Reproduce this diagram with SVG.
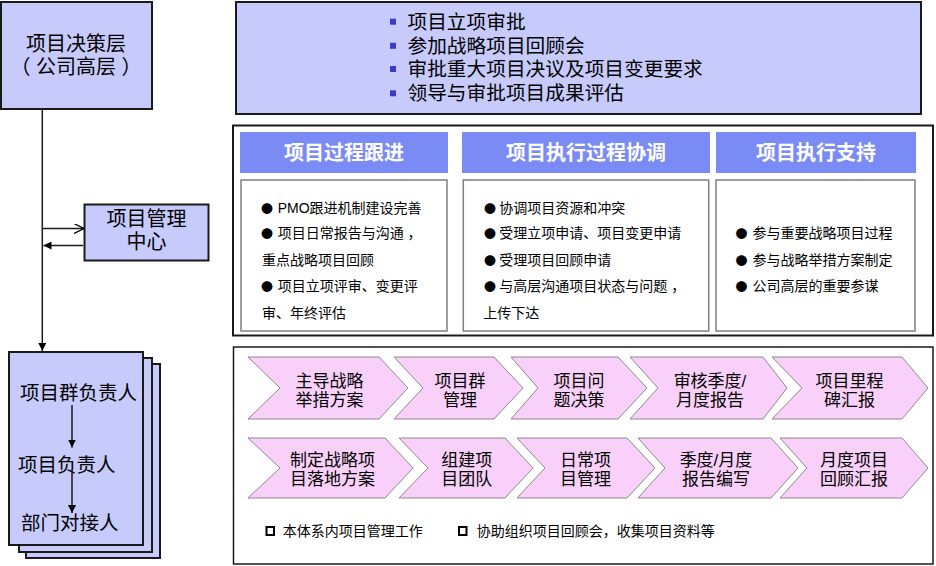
<svg xmlns="http://www.w3.org/2000/svg" width="936" height="566" viewBox="0 0 936 566">
<defs>
<style>
text{font-family:"Liberation Sans","Noto Sans CJK SC",sans-serif;fill:#000;dominant-baseline:central}
.lav{fill:#c6cbfb;stroke:#1a1a1a;stroke-width:2}
.hdr{fill:#7b8bf5;stroke:none}
.hdrt{fill:#fff;font-size:20px;font-weight:bold;text-anchor:middle}
.cbox{fill:#fff;stroke:#7f7f7f;stroke-width:1.5}
.ct{font-size:14px}
.bul{font-family:"Noto Sans CJK SC",sans-serif;font-size:12px}
.chev{fill:#f9d0f9;stroke:#8a8a8a;stroke-width:1}
.chevt{font-size:17px;text-anchor:middle}
.tb{font-size:19.7px}
.sq{fill:#3a3ad0}
.line{stroke:#1a1a1a;stroke-width:1.5;fill:none}
.lg{fill:#fff;stroke:#000;stroke-width:2}
</style>
<marker id="fa" viewBox="0 0 10 10" refX="10" refY="5" markerWidth="8" markerHeight="8" markerUnits="userSpaceOnUse" orient="auto">
<path d="M0,0 L10,5 L0,10 Z" fill="#000"/>
</marker>
<marker id="oa" viewBox="0 0 10 10" refX="10" refY="5" markerWidth="10" markerHeight="10" markerUnits="userSpaceOnUse" orient="auto">
<path d="M0,0 L10,5 L0,10" fill="none" stroke="#000" stroke-width="1.3"/>
</marker>
</defs>
<rect width="936" height="566" fill="#fff"/>

<g id="decision">
<rect class="lav" x="1" y="2" width="151" height="107"/>
<text x="76" y="43.5" font-size="20" text-anchor="middle">项目决策层</text>
<text x="76" y="67" font-size="20" text-anchor="middle">（ 公司高层 ）</text>
</g>

<g id="pmo">
<rect class="lav" x="84.5" y="204.5" width="124" height="56"/>
<text x="146.5" y="218.5" font-size="20" text-anchor="middle">项目管理</text>
<text x="146.5" y="242" font-size="20" text-anchor="middle">中心</text>
</g>

<g id="stack">
<rect class="lav" x="26" y="364" width="134" height="194" stroke-width="1.5"/>
<rect class="lav" x="19" y="358" width="133" height="194" stroke-width="1.5"/>
<rect class="lav" x="9" y="352" width="134" height="193" stroke-width="1.5"/>
<text x="20" y="393" font-size="19.5">项目群负责人</text>
<text x="18" y="465" font-size="19.5">项目负责人</text>
<text x="21" y="523" font-size="19.5">部门对接人</text>
</g>

<g id="connectors">
<line class="line" x1="42.3" y1="109" x2="42.3" y2="351" marker-end="url(#fa)"/>
<line class="line" x1="42.3" y1="228.5" x2="84" y2="228.5" marker-end="url(#oa)"/>
<line class="line" x1="83" y1="245.5" x2="43.5" y2="245.5" marker-end="url(#fa)"/>
<line class="line" x1="72" y1="405" x2="72" y2="447.5" marker-end="url(#fa)"/>
<line class="line" x1="72" y1="469" x2="72" y2="513" marker-end="url(#fa)"/>
</g>

<g id="decision-duties">
<rect class="lav" x="236" y="2" width="685" height="112"/>
<rect class="sq" x="390" y="18.7" width="6" height="6"/>
<rect class="sq" x="390" y="42.8" width="6" height="6"/>
<rect class="sq" x="390" y="66" width="6" height="6"/>
<rect class="sq" x="390" y="90.3" width="6" height="6"/>
<text class="tb" x="407.5" y="21.7">项目立项审批</text>
<text class="tb" x="407.5" y="45.8">参加战略项目回顾会</text>
<text class="tb" x="407.5" y="69">审批重大项目决议及项目变更要求</text>
<text class="tb" x="407.5" y="93.3">领导与审批项目成果评估</text>
</g>

<g id="pmo-functions">
<rect x="233" y="125.5" width="700" height="210" fill="#fff" stroke="#1a1a1a" stroke-width="2"/>
</g>

<g id="col-tracking">
<rect class="hdr" x="240" y="132" width="208" height="41"/>
<text class="hdrt" x="344" y="153">项目过程跟进</text>
<rect class="cbox" x="241" y="180" width="206" height="151"/>
<text class="ct"><tspan class="bul" x="261" y="207.7">●</tspan><tspan x="277.7" y="207.7">PMO跟进机制建设完善</tspan></text>
<text class="ct"><tspan class="bul" x="261" y="233.3">●</tspan><tspan x="277.7" y="233.3">项目日常报告与沟通 ，</tspan></text>
<text class="ct" x="262" y="260">重点战略项目回顾</text>
<text class="ct"><tspan class="bul" x="261" y="286.3">●</tspan><tspan x="277.7" y="286.3">项目立项评审、变更评</tspan></text>
<text class="ct" x="262" y="312.7">审、年终评估</text>
</g>

<g id="col-coordination">
<rect class="hdr" x="462" y="132" width="248" height="41"/>
<text class="hdrt" x="586" y="153">项目执行过程协调</text>
<rect class="cbox" x="463.3" y="180" width="245.4" height="151"/>
<text class="ct"><tspan class="bul" x="484" y="207.7">●</tspan><tspan x="499.3" y="207.7">协调项目资源和冲突</tspan></text>
<text class="ct"><tspan class="bul" x="484" y="233.3">●</tspan><tspan x="499.3" y="233.3">受理立项申请、项目变更申请</tspan></text>
<text class="ct"><tspan class="bul" x="484" y="260">●</tspan><tspan x="499.3" y="260">受理项目回顾申请</tspan></text>
<text class="ct"><tspan class="bul" x="484" y="286.3">●</tspan><tspan x="499.3" y="286.3">与高层沟通项目状态与问题 ，</tspan></text>
<text class="ct" x="483.3" y="312.7">上传下达</text>
</g>

<g id="col-support">
<rect class="hdr" x="716" y="132" width="200" height="41"/>
<text class="hdrt" x="816" y="153">项目执行支持</text>
<rect class="cbox" x="716" y="180" width="199" height="151"/>
<text class="ct"><tspan class="bul" x="735.5" y="233.3">●</tspan><tspan x="752.5" y="233.3">参与重要战略项目过程</tspan></text>
<text class="ct"><tspan class="bul" x="735.5" y="260">●</tspan><tspan x="752.5" y="260">参与战略举措方案制定</tspan></text>
<text class="ct"><tspan class="bul" x="735.5" y="286.3">●</tspan><tspan x="752.5" y="286.3">公司高层的重要参谋</tspan></text>
</g>

<g id="work-panel">
<rect x="233.5" y="347" width="699.5" height="217" fill="#fff" stroke="#1a1a1a" stroke-width="1.5"/>
</g>

<g id="row1">
<g id="c1-1"><path class="chev" d="M248,357 L379,357 L408,388 L379,419 L248,419 L280,388 Z"/>
<text class="chevt" x="329.5" y="381">主导战略</text><text class="chevt" x="329.5" y="400">举措方案</text></g>
<g id="c1-2"><path class="chev" d="M394,357 L494,357 L523,388 L494,419 L394,419 L423,388 Z"/>
<text class="chevt" x="460" y="381">项目群</text><text class="chevt" x="460" y="400">管理</text></g>
<g id="c1-3"><path class="chev" d="M511,357 L618,357 L647,388 L618,419 L511,419 L538,388 Z"/>
<text class="chevt" x="579" y="381">项目问</text><text class="chevt" x="579" y="400">题决策</text></g>
<g id="c1-4"><path class="chev" d="M630,357 L763,357 L787,388 L763,419 L630,419 L658,388 Z"/>
<text class="chevt" x="710" y="381">审核季度/</text><text class="chevt" x="710" y="400">月度报告</text></g>
<g id="c1-5"><path class="chev" d="M772,357 L902,357 L928,388 L902,419 L772,419 L802,388 Z"/>
<text class="chevt" x="849.5" y="381">项目里程</text><text class="chevt" x="849.5" y="400">碑汇报</text></g>
</g>

<g id="row2">
<g id="c2-1"><path class="chev" d="M248,438 L385,438 L413,468 L385,498 L248,498 L280,468 Z"/>
<text class="chevt" x="332.5" y="460">制定战略项</text><text class="chevt" x="332.5" y="479">目落地方案</text></g>
<g id="c2-2"><path class="chev" d="M399,438 L505,438 L533,468 L505,498 L399,498 L428,468 Z"/>
<text class="chevt" x="466.7" y="460">组建项</text><text class="chevt" x="466.7" y="479">目团队</text></g>
<g id="c2-3"><path class="chev" d="M517,438 L627,438 L655,468 L627,498 L517,498 L545,468 Z"/>
<text class="chevt" x="585.5" y="460">日常项</text><text class="chevt" x="585.5" y="479">目管理</text></g>
<g id="c2-4"><path class="chev" d="M638,438 L771,438 L798,468 L771,498 L638,498 L665,468 Z"/>
<text class="chevt" x="716" y="460">季度/月度</text><text class="chevt" x="716" y="479">报告编写</text></g>
<g id="c2-5"><path class="chev" d="M780,438 L902,438 L928,468 L902,498 L780,498 L807,468 Z"/>
<text class="chevt" x="854" y="460">月度项目</text><text class="chevt" x="854" y="479">回顾汇报</text></g>
</g>

<g id="legend">
<rect class="lg" x="266.5" y="527" width="7.5" height="8"/>
<text class="ct" x="282.7" y="531">本体系内项目管理工作</text>
<rect class="lg" x="459" y="527" width="7.5" height="8"/>
<text class="ct" x="476.7" y="531">协助组织项目回顾会，收集项目资料等</text>
</g>
</svg>
